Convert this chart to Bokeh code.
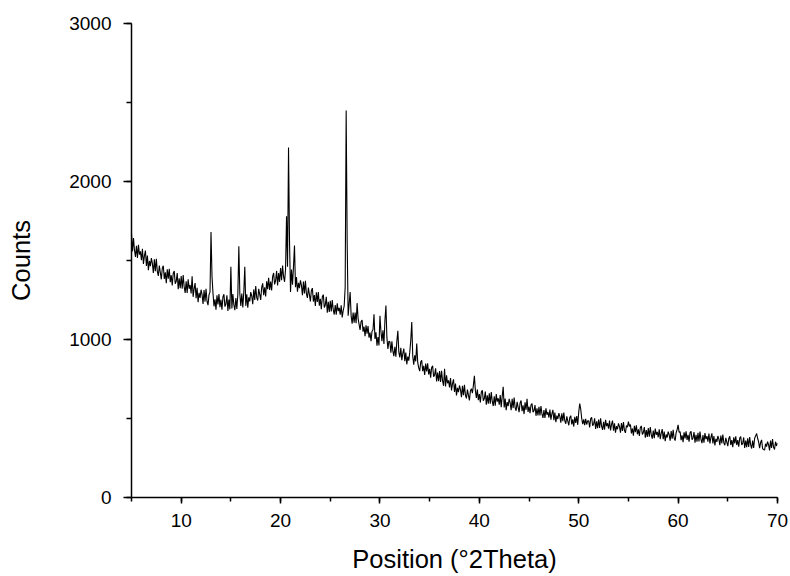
from bokeh.plotting import figure
from bokeh.models import SingleIntervalTicker
from bokeh.embed import file_html
from bokeh.resources import INLINE

# XRD pattern at 0.1 degree steps
theta_start = 5.0
theta_step = 0.1

counts_05_15 = [
    1670, 1558, 1642, 1565, 1523, 1593, 1516, 1600, 1537, 1558,
    1502, 1574, 1478, 1529, 1563, 1466, 1531, 1439, 1497, 1464,
    1515, 1482, 1421, 1507, 1432, 1511, 1429, 1403, 1468, 1424,
    1381, 1451, 1467, 1383, 1425, 1357, 1445, 1385, 1448, 1363,
    1407, 1342, 1420, 1434, 1353, 1368, 1420, 1319, 1388, 1324,
    1402, 1321, 1408, 1334, 1295, 1368, 1294, 1381, 1321, 1345,
    1292, 1400, 1270, 1322, 1357, 1261, 1327, 1236, 1295, 1263,
    1315, 1284, 1225, 1313, 1240, 1321, 1241, 1217, 1284, 1300,
    1680, 1400, 1292, 1210, 1255, 1189, 1280, 1222, 1288, 1205,
    1252, 1189, 1270, 1286, 1208, 1225, 1280, 1181, 1253, 1191,
]
counts_15_25 = [
    1460, 1196, 1288, 1219, 1185, 1263, 1194, 1286, 1590, 1290,
    1212, 1291, 1203, 1300, 1460, 1213, 1286, 1201, 1267, 1241,
    1300, 1275, 1223, 1317, 1251, 1338, 1265, 1247, 1321, 1285,
    1251, 1330, 1355, 1280, 1331, 1272, 1369, 1318, 1390, 1314,
    1367, 1311, 1398, 1421, 1349, 1373, 1434, 1342, 1420, 1365,
    1452, 1376, 1468, 1399, 1365, 1443, 1780, 1460, 2215, 1620,
    1300, 1443, 1346, 1460, 1595, 1331, 1395, 1302, 1359, 1325,
    1375, 1342, 1281, 1367, 1292, 1371, 1289, 1263, 1328, 1284,
    1241, 1310, 1325, 1240, 1281, 1212, 1299, 1238, 1300, 1214,
    1257, 1192, 1270, 1284, 1203, 1218, 1270, 1169, 1238, 1174,
]
counts_25_35 = [
    1245, 1178, 1250, 1189, 1158, 1218, 1157, 1229, 1180, 1200,
    1157, 1217, 1139, 1183, 1212, 1330, 2450, 1620, 1150, 1225,
    1300, 1151, 1100, 1170, 1107, 1171, 1103, 1230, 1133, 1096,
    1060, 1114, 1123, 1050, 1081, 1021, 1090, 1037, 1085, 1012,
    1044, 989, 1052, 1062, 1160, 1004, 1045, 961, 1016, 962,
    1150, 1050, 990, 1058, 972, 1120, 1215, 1010, 940, 990,
    985, 917, 988, 926, 894, 953, 891, 990, 1055, 920,
    887, 947, 869, 913, 942, 863, 917, 843, 892, 866,
    920, 995, 1110, 895, 840, 900, 862, 975, 855, 820,
    800, 857, 869, 799, 833, 776, 848, 798, 849, 779,
]
counts_35_45 = [
    814, 759, 823, 833, 765, 776, 818, 734, 790, 736,
    800, 731, 802, 739, 707, 815, 703, 773, 723, 741,
    697, 756, 677, 720, 748, 668, 721, 646, 694, 667,
    709, 683, 635, 707, 647, 713, 648, 627, 683, 648,
    615, 674, 689, 660, 710, 770, 678, 630, 684, 616,
    654, 601, 667, 679, 613, 626, 670, 588, 646, 594,
    660, 594, 668, 608, 579, 640, 581, 654, 607, 628,
    587, 648, 572, 640, 700, 570, 626, 553, 604, 579,
    624, 599, 552, 625, 566, 633, 569, 549, 606, 572,
    540, 599, 614, 546, 583, 528, 603, 555, 625, 541,
]
counts_45_55 = [
    576, 533, 586, 595, 540, 550, 585, 517, 564, 520,
    574, 519, 579, 529, 504, 554, 504, 564, 524, 541,
    506, 556, 493, 530, 555, 490, 537, 476, 518, 497,
    534, 513, 473, 533, 483, 538, 484, 467, 513, 484,
    457, 506, 518, 463, 494, 449, 511, 472, 516, 460,
    540, 595, 560, 500, 465, 495, 458, 498, 462, 485,
    486, 444, 498, 508, 454, 465, 501, 434, 482, 439,
    494, 440, 501, 452, 428, 479, 430, 491, 452, 470,
    436, 487, 424, 462, 487, 423, 470, 410, 452, 432,
    469, 449, 410, 471, 422, 478, 425, 409, 456, 445,
]
counts_55_65 = [
    480, 450, 462, 406, 437, 391, 453, 413, 457, 400,
    431, 389, 443, 453, 399, 410, 446, 379, 427, 384,
    439, 385, 446, 397, 373, 424, 375, 436, 397, 415,
    381, 432, 370, 408, 433, 369, 417, 357, 399, 380,
    417, 397, 359, 420, 372, 428, 376, 360, 410, 430,
    460, 412, 417, 363, 394, 350, 413, 374, 419, 364,
    396, 354, 409, 419, 366, 377, 414, 347, 396, 353,
    409, 355, 417, 368, 344, 395, 347, 408, 369, 388,
    354, 405, 342, 381, 406, 342, 389, 329, 371, 352,
    389, 369, 331, 392, 343, 399, 347, 331, 378, 351,
]
counts_65_70 = [
    325, 374, 387, 332, 364, 319, 381, 343, 387, 332,
    363, 321, 376, 386, 332, 343, 380, 313, 361, 319,
    374, 320, 382, 333, 310, 361, 313, 375, 390, 405,
    375, 352, 312, 348, 365, 310, 303, 300, 340, 322,
    354, 335, 298, 360, 313, 370, 319, 304, 353, 326,
    345,
]

counts = (counts_05_15 + counts_15_25 + counts_25_35 + counts_35_45
          + counts_45_55 + counts_55_65 + counts_65_70)
two_theta = [round(theta_start + theta_step * i, 1) for i in range(len(counts))]

x_label = "Position (°2Theta)"
y_label = "Counts"

FONT = "Liberation Sans"

p = figure(width=788, height=576, x_range=(5, 70), y_range=(0, 3000),
           output_backend="svg", toolbar_location=None,
           min_border_left=131, min_border_right=11,
           min_border_top=23, min_border_bottom=79)
p.outline_line_color = None
p.background_fill_color = "white"
p.border_fill_color = "white"
p.xgrid.visible = False
p.ygrid.visible = False

p.line(two_theta, counts, line_color="black", line_width=1.1)

p.xaxis.ticker = SingleIntervalTicker(interval=10, num_minor_ticks=2)
p.yaxis.ticker = SingleIntervalTicker(interval=1000, num_minor_ticks=2)

for ax in (p.xaxis[0], p.yaxis[0]):
    ax.axis_line_color = "black"
    ax.axis_line_width = 1.5
    ax.major_tick_line_color = "black"
    ax.major_tick_line_width = 1.5
    ax.minor_tick_line_color = "black"
    ax.minor_tick_line_width = 1.5
    ax.major_tick_in = 0
    ax.minor_tick_in = 0
    ax.major_label_text_font = FONT
    ax.major_label_text_font_size = "19px"
    ax.major_label_text_color = "black"
    ax.axis_label_text_font = FONT
    ax.axis_label_text_font_size = "25.5px"
    ax.axis_label_text_font_style = "normal"
    ax.axis_label_text_color = "black"

p.xaxis.major_tick_out = 6
p.xaxis.minor_tick_out = 4
p.yaxis.major_tick_out = 8
p.yaxis.minor_tick_out = 5
p.xaxis.major_label_standoff = 10
p.yaxis.major_label_standoff = 12
p.xaxis.axis_label = x_label
p.yaxis.axis_label = y_label
p.xaxis.axis_label_standoff = 15
p.yaxis.axis_label_standoff = 31

open("out.html", "w").write(file_html(p, INLINE))
